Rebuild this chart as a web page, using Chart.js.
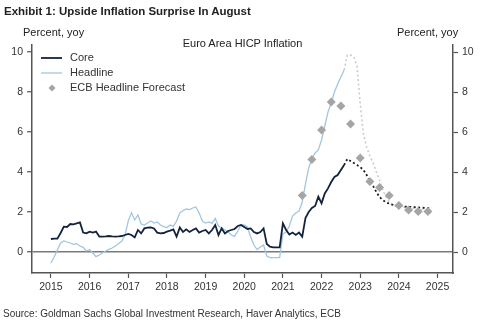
<!DOCTYPE html>
<html>
<head>
<meta charset="utf-8">
<script src="https://cdn.jsdelivr.net/npm/chart.js@4.4.1/dist/chart.umd.min.js"></script>
<style>
  body { margin: 0; background: #fff; font-family: Arial, "Liberation Sans", sans-serif; }
  #wrap { position: relative; width: 485px; height: 334px; }
  canvas { position: absolute; left: 0; top: 0; }
  .t { position: absolute; white-space: nowrap; color: #222; line-height: 1; }
</style>
</head>
<body>
<div id="wrap">
  <canvas id="chart" width="485" height="334"></canvas>
  <div class="t" style="left:4px;top:6px;font-weight:bold;font-size:11.5px;">Exhibit 1: Upside Inflation Surprise In August</div>
  <div class="t" style="left:23px;top:27px;font-size:11px;">Percent, yoy</div>
  <div class="t" style="left:397px;top:27px;font-size:11px;">Percent, yoy</div>
  <div class="t" style="left:0;width:485px;text-align:center;top:38px;font-size:11px;">Euro Area HICP Inflation</div>
  <div class="t" style="left:3px;top:309px;font-size:10px;color:#333;">Source: Goldman Sachs Global Investment Research, Haver Analytics, ECB</div>
</div>
<script>
// monthly data, first value = Jan 2015
const startYear = 2015;
const core = [
  0.65, 0.67, 0.67, 0.95, 1.27, 1.25, 1.4, 1.38, 1.43, 1.48, 0.97, 0.93,
  1.02, 0.97, 1.02, 0.77, 0.77, 0.78, 0.8, 0.78, 0.77, 0.78, 0.8, 0.85,
  0.9, 0.85, 0.73, 1.1, 0.93, 1.18, 1.22, 1.23, 1.18, 0.97, 0.93, 0.95,
  1.02, 1.07, 1.13, 0.77, 1.23, 1.0, 1.13, 1.0, 1.1, 1.18, 0.97, 1.05,
  1.1, 0.93, 1.1, 1.35, 0.85, 1.18, 0.93, 1.05, 1.1, 1.15, 1.3, 1.35,
  1.25, 1.15, 1.18, 1.0, 0.93, 1.0, 1.18, 0.4, 0.27, 0.23, 0.23, 0.23,
  1.43, 1.1, 0.87, 0.97, 0.85, 0.97, 0.77, 1.7, 2.0, 2.2, 2.3, 2.77,
  2.43, 2.93, 3.18, 3.5, 3.75, 3.85, 4.1, 4.35
];
const headline = [
  -0.55, -0.25, 0.1, 0.45, 0.55, 0.5, 0.45, 0.38, 0.42, 0.3, 0.23, 0.05,
  0.12, -0.05, -0.23, -0.15, -0.05, 0.05, 0.13, 0.2, 0.3, 0.42, 0.55, 0.85,
  1.55, 1.97, 1.6, 1.85, 1.4, 1.35, 1.45, 1.55, 1.45, 1.5, 1.35, 1.27,
  1.22, 1.35, 1.28, 1.55, 1.95, 2.07, 2.15, 2.12, 2.2, 2.25, 1.95, 1.55,
  1.45, 1.5, 1.43, 1.68, 1.3, 1.2, 1.1, 1.0, 0.85, 0.78, 1.05, 1.35,
  1.35, 1.25, 0.75, 0.35, 0.12, 0.25, 0.35, -0.2, -0.28, -0.28, -0.28, -0.28,
  0.9, 1.0, 1.3, 1.8, 1.95, 2.05, 2.5, 3.4, 4.2, 4.65, 4.95, 5.1,
  5.6, 6.3, 7.0, 7.45, 8.0, 8.4, 8.75, 9.1
];

// forecast paths (dotted)
const forecastMonths = ['2022-08', '2022-09', '2022-10', '2022-11', '2022-12',
  '2023-01', '2023-02', '2023-03', '2023-04', '2023-05', '2023-06', '2023-07',
  '2023-08', '2023-09', '2023-10', '2023-11', '2023-12', '2024-03', '2024-07', '2024-11'];
const coreForecast = [4.35, 4.65, 4.55, 4.45, 4.35, 4.25, 4.1, 3.85, 3.55, 3.3, 3.0, 2.75,
  2.6, 2.48, 2.42, 2.37, 2.33, 2.27, 2.23, 2.18];
const headlineForecast = [9.1, 9.85, 9.85, 9.75, 9.3, 7.4, 5.9, 5.25, 4.8, 4.45, 4.0, 3.6,
  3.1, 2.75, 2.5, 2.35, 2.3, 2.22, 2.15, 2.1];

// ECB staff projections, quarterly
const ecbQuarters = ['2021Q3', '2021Q4', '2022Q1', '2022Q2', '2022Q3', '2022Q4', '2023Q1',
  '2023Q2', '2023Q3', '2023Q4', '2024Q1', '2024Q2', '2024Q3', '2024Q4'];
const ecbForecast = [2.82, 4.63, 6.1, 7.5, 7.3, 6.4, 4.7, 3.52, 3.23, 2.82, 2.32, 2.1, 2.02, 2.02];

const yearTicks = [2015, 2016, 2017, 2018, 2019, 2020, 2021, 2022, 2023, 2024, 2025];
const valueTicks = [0, 2, 4, 6, 8, 10];

const CORE_COLOR = '#13233f';
const HEAD_COLOR = '#a3c6de';
const ECB_COLOR = '#a5a5a5';
const AXIS_COLOR = '#555';

function monthly(values) {
  return values.map((v, i) => ({ x: startYear + i / 12, y: v }));
}
function fromMonths(months, values) {
  return months.map((m, i) => {
    let [y, mo] = m.split('-').map(Number);
    return { x: y + (mo - 1) / 12, y: values[i] };
  });
}
function fromQuarters(quarters, values) {
  return quarters.map((q, i) => {
    let y = Number(q.slice(0, 4)), n = Number(q.slice(5));
    return { x: y + (n - 1) / 4, y: values[i] };
  });
}

// small legend drawn inside the plot, top-left
const insideLegend = {
  id: 'insideLegend',
  afterDraw(chart) {
    let ctx = chart.ctx;
    let items = [
      { text: 'Core', type: 'line', color: CORE_COLOR, width: 1.8 },
      { text: 'Headline', type: 'line', color: HEAD_COLOR, width: 1.3 },
      { text: 'ECB Headline Forecast', type: 'diamond', color: ECB_COLOR }
    ];
    ctx.save();
    ctx.font = '11px Arial, "Liberation Sans", sans-serif';
    ctx.textBaseline = 'middle';
    items.forEach((it, i) => {
      let y = 58 + i * 15;
      if (it.type === 'line') {
        ctx.strokeStyle = it.color;
        ctx.lineWidth = it.width;
        ctx.beginPath();
        ctx.moveTo(41, y);
        ctx.lineTo(62, y);
        ctx.stroke();
      } else {
        ctx.fillStyle = it.color;
        ctx.beginPath();
        ctx.moveTo(52, y - 3.5);
        ctx.lineTo(55.5, y);
        ctx.lineTo(52, y + 3.5);
        ctx.lineTo(48.5, y);
        ctx.closePath();
        ctx.fill();
      }
      ctx.fillStyle = '#333';
      ctx.fillText(it.text, 70, y);
    });
    ctx.restore();
  }
};

const tickFont = { family: 'Arial, "Liberation Sans", sans-serif', size: 10.5 };

new Chart(document.getElementById('chart').getContext('2d'), {
  type: 'line',
  data: {
    datasets: [
      {
        label: 'ECB Headline Forecast',
        data: fromQuarters(ecbQuarters, ecbForecast),
        showLine: false,
        pointStyle: 'rectRot',
        pointRadius: 4.5,
        pointBackgroundColor: ECB_COLOR,
        pointBorderColor: ECB_COLOR,
        pointBorderWidth: 0
      },
      {
        label: 'Core',
        data: monthly(core),
        borderColor: CORE_COLOR,
        borderWidth: 1.8,
        pointRadius: 0
      },
      {
        label: 'Core forecast',
        data: fromMonths(forecastMonths, coreForecast),
        borderColor: '#1b1b1b',
        borderWidth: 1.8,
        borderDash: [2, 2.5],
        pointRadius: 0
      },
      {
        label: 'Headline',
        data: monthly(headline),
        borderColor: HEAD_COLOR,
        borderWidth: 1.3,
        pointRadius: 0
      },
      {
        label: 'Headline forecast',
        data: fromMonths(forecastMonths, headlineForecast),
        borderColor: '#c3cbd4',
        borderWidth: 1.5,
        borderDash: [2, 2.5],
        pointRadius: 0
      }
    ]
  },
  options: {
    responsive: false,
    animation: false,
    layout: { padding: { top: 45, left: 0, right: 0, bottom: 0 } },
    elements: { line: { tension: 0, fill: false } },
    plugins: {
      legend: { display: false },
      title: { display: false },
      tooltip: { enabled: false }
    },
    scales: {
      x: {
        type: 'linear',
        min: 2014.51,
        max: 2025.4,
        afterBuildTicks: s => { s.ticks = yearTicks.map(v => ({ value: v })); },
        afterFit: s => { s.height = 61; },
        ticks: {
          callback: v => String(v),
          font: tickFont,
          color: '#333',
          padding: 3,
          maxRotation: 0,
          autoSkip: false
        },
        grid: { drawOnChartArea: false, tickLength: 5, tickColor: AXIS_COLOR, tickWidth: 1.2 },
        border: { color: AXIS_COLOR, width: 1.5 }
      },
      y: {
        position: 'left',
        min: -1.05,
        max: 10.35,
        afterBuildTicks: s => { s.ticks = valueTicks.map(v => ({ value: v })); },
        afterFit: s => { s.width = 32; },
        ticks: { font: tickFont, color: '#333', padding: 4 },
        grid: {
          color: ctx => (ctx.tick && ctx.tick.value === 0) ? '#7a7a7a' : 'rgba(0,0,0,0)',
          lineWidth: 1.5,
          tickLength: 5,
          tickColor: AXIS_COLOR,
          tickWidth: 1.2
        },
        border: { color: AXIS_COLOR, width: 1.5 }
      },
      y2: {
        position: 'right',
        min: -1.05,
        max: 10.35,
        afterBuildTicks: s => { s.ticks = valueTicks.map(v => ({ value: v })); },
        afterFit: s => { s.width = 32; },
        ticks: { font: tickFont, color: '#333', padding: 4 },
        grid: { drawOnChartArea: false, tickLength: 5, tickColor: AXIS_COLOR, tickWidth: 1.2 },
        border: { color: AXIS_COLOR, width: 1.5 }
      }
    }
  },
  plugins: [insideLegend]
});
</script>
</body>
</html>
